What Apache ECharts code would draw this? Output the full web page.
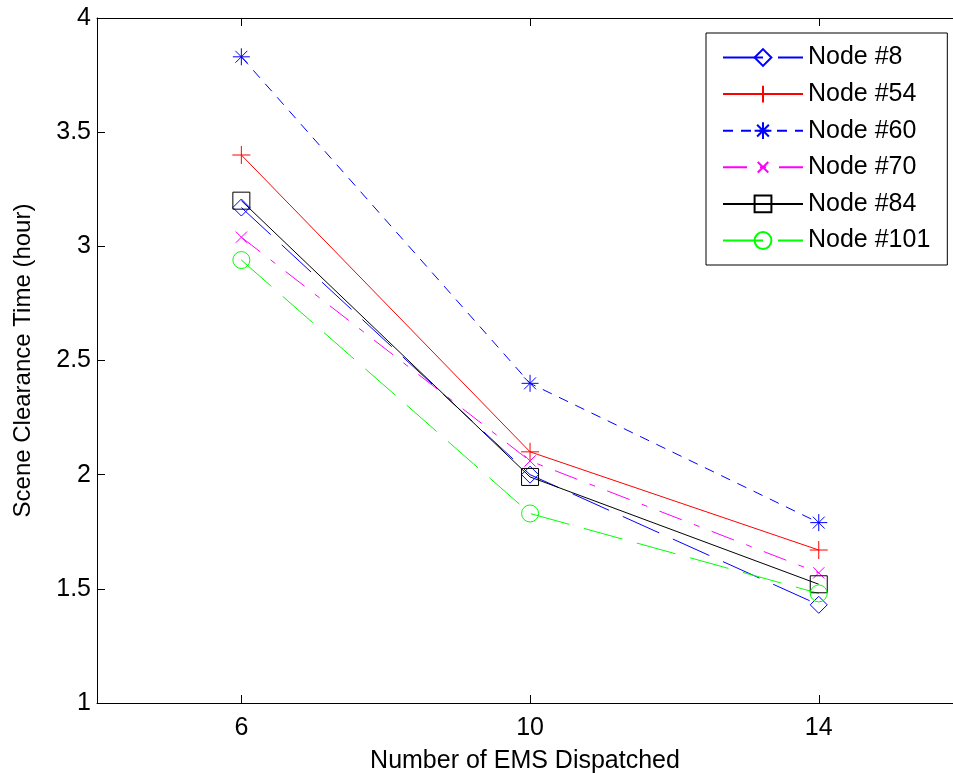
<!DOCTYPE html>
<html>
<head>
<meta charset="utf-8">
<script src="https://cdn.jsdelivr.net/npm/echarts@6/dist/echarts.min.js"></script>
<style>
html,body{margin:0;padding:0;background:#fff;}
#chart{width:953px;height:773px;}
</style>
</head>
<body>
<div id="chart"></div>
<script>
// ---- data ----
var xValues = [6, 10, 14];
var xTickValues = [6, 10, 14];
var seriesNames = ['Node #8', 'Node #54', 'Node #60', 'Node #70', 'Node #84', 'Node #101'];
var node8   = [3.17, 2.00, 1.43];
var node54  = [3.40, 2.10, 1.67];
var node60  = [3.83, 2.40, 1.79];
var node70  = [3.04, 2.06, 1.57];
var node84  = [3.20, 1.99, 1.52];
var node101 = [2.94, 1.83, 1.48];

var FONT = '"Liberation Sans", Arial, Helvetica, sans-serif';

function pairs(ys) {
  return xValues.map(function (x, i) { return [x, ys[i]]; });
}

var SYM = {
  diamond: 'path://M5,0L10,5L5,10L0,5Z',
  plus: 'path://M0,5L10,5M5,0L5,10',
  star: 'path://M0,5L10,5M5,0L5,10M1.5,1.5L8.5,8.5M8.5,1.5L1.5,8.5',
  cross: 'path://M-3,-3M13,13M0,0L10,10M10,0L0,10',
  square: 'path://M0,0L10,0L10,10L0,10Z',
  circle: 'path://M10,5A5,5,0,1,1,0,5A5,5,0,1,1,10,5Z'
};

function makeSeries(name, data, color, symbol, size, dash) {
  return {
    name: name,
    type: 'line',
    data: pairs(data),
    symbol: symbol,
    symbolSize: size,
    showAllSymbol: true,
    lineStyle: { color: color, width: 1, type: dash },
    itemStyle: { color: 'none', borderColor: color, borderWidth: 1 },
    emphasis: { disabled: true },
    z: 3
  };
}

var chart = echarts.init(document.getElementById('chart'), null, { renderer: 'canvas' });
chart.setOption({
  animation: false,
  backgroundColor: '#fff',
  textStyle: { fontFamily: FONT },
  grid: { left: 97, top: 18, right: 0, bottom: 70, containLabel: false, outerBoundsMode: 'none' },
  legend: {
    orient: 'vertical',
    left: 706,
    top: 33,
    data: seriesNames,
    itemWidth: 80,
    itemHeight: 21,
    itemGap: 11.6,
    padding: [12, 17, 12, 16],
    backgroundColor: '#fff',
    borderColor: '#000',
    borderWidth: 1,
    textStyle: { fontSize: 25, color: '#000', fontFamily: FONT },
    selectedMode: false
  },
  xAxis: [{
    type: 'value',
    min: 4, max: 15.86,
    position: 'bottom',
    name: 'Number of EMS Dispatched',
    nameLocation: 'middle',
    nameGap: 46,
    nameTextStyle: { fontSize: 25, color: '#000', fontFamily: FONT },
    axisLine: { show: true, lineStyle: { color: '#000', width: 1 } },
    axisTick: { show: true, inside: true, length: 8, customValues: xTickValues, lineStyle: { color: '#000' } },
    axisLabel: { show: true, customValues: xTickValues, fontSize: 25, color: '#000', margin: 13, fontFamily: FONT },
    splitLine: { show: false }
  }, {
    type: 'value',
    min: 4, max: 15.86,
    position: 'top',
    axisLine: { show: true, lineStyle: { color: '#000', width: 1 } },
    axisTick: { show: true, inside: true, length: 8, customValues: xTickValues, lineStyle: { color: '#000' } },
    axisLabel: { show: false },
    splitLine: { show: false }
  }],
  yAxis: [{
    type: 'value',
    min: 1, max: 4, interval: 0.5,
    position: 'left',
    name: 'Scene Clearance Time (hour)',
    nameLocation: 'middle',
    nameGap: 62,
    nameTextStyle: { fontSize: 24, color: '#000', fontFamily: FONT },
    axisLine: { show: true, lineStyle: { color: '#000', width: 1 } },
    axisTick: { show: true, inside: true, length: 8, lineStyle: { color: '#000' } },
    axisLabel: { fontSize: 25, color: '#000', margin: 6, fontFamily: FONT },
    splitLine: { show: false }
  }],
  series: [
    makeSeries('Node #8', node8, '#0000ff', SYM.diamond, 17, [40, 15]),
    makeSeries('Node #54', node54, '#ff0000', SYM.plus, 18, 'solid'),
    makeSeries('Node #60', node60, '#0000ff', SYM.star, 17, [10, 8]),
    makeSeries('Node #70', node70, '#ff00ff', SYM.cross, 18, [24, 13, 6, 13]),
    makeSeries('Node #84', node84, '#000000', SYM.square, 17, 'solid'),
    makeSeries('Node #101', node101, '#00ff00', SYM.circle, 17, [40, 15])
  ]
});
</script>
</body>
</html>
